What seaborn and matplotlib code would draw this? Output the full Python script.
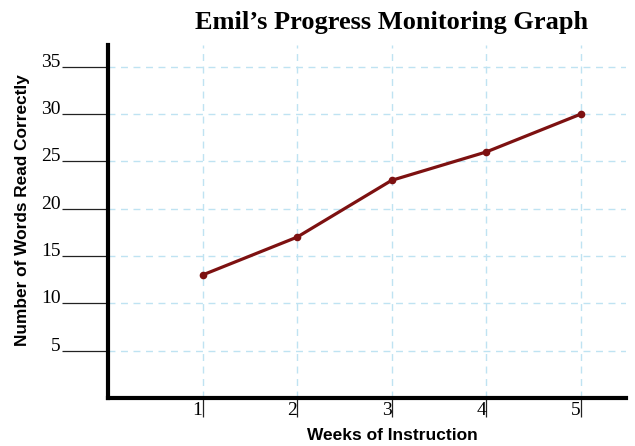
import pandas as pd
import seaborn as sns
import matplotlib.pyplot as plt

# datos
weeks = [1, 2, 3, 4, 5]
words_correct = [13, 17, 23, 26, 30]
y_ticks = [5, 10, 15, 20, 25, 30, 35]

df = pd.DataFrame({'Semana': weeks, 'Palabras': words_correct})

sns.set_style("white")
plt.rcParams['font.family'] = ['Liberation Serif', 'DejaVu Serif']
plt.rcParams['text.color'] = 'black'
plt.rcParams['axes.labelcolor'] = 'black'
plt.rcParams['xtick.color'] = 'black'
plt.rcParams['ytick.color'] = 'black'

fig = plt.figure(figsize=(6.35, 4.46), dpi=100)
ax = fig.add_axes([0.170, 0.1076, 0.816, 0.7914])

sns.lineplot(data=df, x='Semana', y='Palabras', ax=ax, color='#7d1111',
             linewidth=2.3, marker='o', markersize=5.5, markeredgewidth=0,
             zorder=3)

ax.set_xlim(0, 5.48)
ax.set_ylim(0, 37.3)
ax.set_xticks(weeks)
ax.set_xticklabels([str(w) for w in weeks], ha='right')
ax.set_yticks(y_ticks)
ax.set_yticklabels([str(t) for t in y_ticks])

for lab in ax.get_yticklabels():
    lab.set_verticalalignment('baseline')

ax.tick_params(axis='y', left=True, length=33, width=0.9, color='#222222', pad=1,
               labelsize=14, direction='out')
ax.tick_params(axis='x', bottom=True, length=14, width=0.9, color='#222222', pad=-11,
               labelsize=14, direction='out')

ax.grid(True, color='#bfe3f2', linestyle=(0, (5, 4)), linewidth=1)
ax.set_axisbelow(True)

for side in ['top', 'right']:
    ax.spines[side].set_visible(False)
for side in ['left', 'bottom']:
    ax.spines[side].set_linewidth(3)
    ax.spines[side].set_color('black')

ax.set_xlabel('Weeks of Instruction', family=['Liberation Sans', 'DejaVu Sans'],
              fontsize=12.5, fontweight='bold')
ax.set_ylabel('Number of Words Read Correctly', family=['Liberation Sans', 'DejaVu Sans'],
              fontsize=12.4, fontweight='bold')
ax.xaxis.set_label_coords(0.548, -0.085)
ax.yaxis.set_label_coords(-0.151, 0.533)

fig.text(0.616, 0.935, 'Emil\u2019s Progress Monitoring Graph', ha='center',
         va='baseline', fontsize=19, fontweight='bold')

plt.savefig('out.png', dpi=100)
plt.close()
